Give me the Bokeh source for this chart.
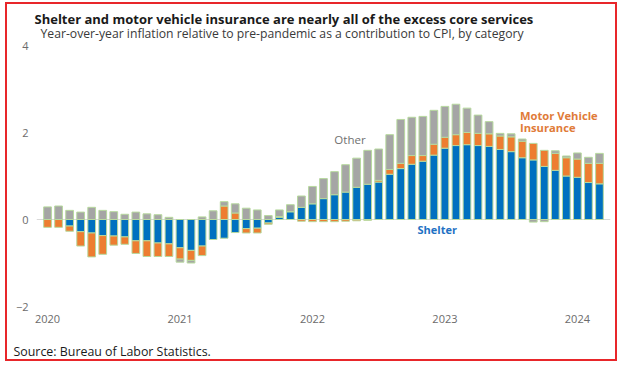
from bokeh.plotting import figure
from bokeh.models import ColumnDataSource, FixedTicker, Span, Label, Title
from bokeh.embed import file_html
from bokeh.resources import INLINE
import numpy as np

# Months Jan 2020 .. Mar 2024
months = [f"{y}-{m:02d}" for y in range(2020, 2025) for m in range(1, 13)][:51]

shelter = [0.00, 0.00, -0.15, -0.28, -0.31, -0.37, -0.38, -0.40, -0.49, -0.49, -0.54, -0.56,
           -0.65, -0.71, -0.61, -0.46, -0.43, -0.30, -0.21, -0.20, -0.08, 0.05, 0.18, 0.28,
           0.36, 0.48, 0.57, 0.63, 0.74, 0.81, 0.86, 1.04, 1.17, 1.27, 1.34, 1.48,
           1.64, 1.70, 1.72, 1.70, 1.68, 1.61, 1.56, 1.42, 1.37, 1.22, 1.13, 1.00,
           0.97, 0.85, 0.82]
motor = [-0.18, -0.18, -0.12, -0.33, -0.55, -0.43, -0.21, -0.17, -0.29, -0.36, -0.31, -0.29,
         -0.26, -0.23, -0.22, 0.00, 0.31, 0.15, -0.10, -0.11, -0.03, 0.02, 0.00, -0.04,
         -0.05, -0.05, -0.05, -0.04, -0.03, -0.02, 0.04, 0.11, 0.12, 0.20, 0.13, 0.25,
         0.25, 0.25, 0.28, 0.28, 0.29, 0.31, 0.34, 0.38, 0.38, 0.37, 0.39, 0.42,
         0.42, 0.44, 0.47]
other = [0.29, 0.31, 0.21, 0.17, 0.28, 0.21, 0.18, 0.12, 0.17, 0.13, 0.11, 0.05,
         -0.07, -0.06, 0.06, 0.20, 0.10, 0.21, 0.26, 0.22, 0.09, 0.15, 0.16, 0.26,
         0.40, 0.46, 0.53, 0.63, 0.67, 0.78, 0.72, 0.80, 1.01, 0.88, 0.90, 0.78,
         0.71, 0.70, 0.56, 0.42, 0.28, 0.06, 0.07, 0.05, -0.06, -0.05, 0.06, 0.04,
         0.14, 0.14, 0.23]

year_labels = ["2020", "2021", "2022", "2023", "2024"]
y_ticks = [-2, 0, 2, 4]

series = [("Shelter", shelter, "#0070C0"),
          ("Motor Vehicle Insurance", motor, "#ED7D31"),
          ("Other", other, "#A5A5A5")]

FONT = "Open Sans"
W, H = 612, 359
ML, MR, MT, MB = 29, 9, 41, 57
p = figure(width=W, height=H, output_backend="svg", toolbar_location=None,
           x_range=(-1, 51), y_range=(-2, 4),
           min_border_left=ML, min_border_right=MR, min_border_top=MT, min_border_bottom=MB)
p.styles = {"border": "2px solid #e8262a", "margin-left": "5px", "margin-top": "2px"}
p.outline_line_color = None
p.xgrid.visible = False
p.ygrid.visible = False
p.background_fill_color = "white"

x = np.arange(len(months))
pos = np.zeros(len(months))
neg = np.zeros(len(months))
for name, vals, col in series:
    v = np.array(vals)
    bottom = np.where(v >= 0, pos, neg + v)
    top = np.where(v >= 0, pos + v, neg)
    pos = np.where(v >= 0, pos + v, pos)
    neg = np.where(v < 0, neg + v, neg)
    src = ColumnDataSource(dict(x=x, bottom=bottom, top=top))
    p.vbar(x="x", bottom="bottom", top="top", width=0.7, source=src,
           fill_color=col, line_color="#B7D99E", line_width=1)

p.add_layout(Span(location=0, dimension="width", line_color="#d9d9d9", line_width=1,
                  level="underlay"))

# axes
xa = p.xaxis[0]
xa.ticker = FixedTicker(ticks=[0, 12, 24, 36, 48])
xa.major_label_overrides = {i * 12: lab for i, lab in enumerate(year_labels)}
ya = p.yaxis[0]
ya.ticker = FixedTicker(ticks=y_ticks)
for ax in (xa, ya):
    ax.axis_line_color = None
    ax.major_tick_line_color = None
    ax.minor_tick_line_color = None
    ax.major_tick_out = 0
    ax.major_tick_in = 0
    ax.minor_tick_out = 0
    ax.minor_tick_in = 0
    ax.major_label_text_color = "#6b6b6b"
    ax.major_label_text_font = FONT
    ax.major_label_text_font_size = "11px"
xa.major_label_standoff = 8
ya.major_label_standoff = 8

# titles (subtitle first: nearest to the frame)
p.add_layout(Title(text="Year-over-year inflation relative to pre-pandemic as a contribution to CPI, by category",
                   text_font=FONT, text_font_size="12.2px", text_color="#3a3a3a",
                   text_font_style="normal", align="left", offset=4, standoff=7), "above")
p.add_layout(Title(text="Shelter and motor vehicle insurance are nearly all of the excess core services",
                   text_font=FONT, text_font_size="13px", text_color="#1a1a1a",
                   text_font_style="bold", align="left", offset=-2, standoff=-16), "above")
# blank spacer line between the year labels and the source note
p.add_layout(Title(text=" ", text_font=FONT, text_font_size="1px", standoff=12), "below")
p.add_layout(Title(text="Source: Bureau of Labor Statistics.",
                   text_font=FONT, text_font_size="12.4px", text_color="#1a1a1a",
                   text_font_style="normal", align="left", offset=-23, standoff=1), "below")

p.add_layout(Label(x=27.4, y=1.84, text="Other", text_font=FONT, text_font_size="11.5px",
                   text_color="#707070", text_align="center", text_baseline="middle"))
p.add_layout(Label(x=35.3, y=-0.23, text="Shelter", text_font=FONT, text_font_size="11px",
                   text_color="#1f72c4", text_align="center", text_baseline="middle",
                   text_font_style="bold"))
p.add_layout(Label(x=42.8, y=2.39, text="Motor Vehicle", text_font=FONT, text_font_size="11.2px",
                   text_color="#e07b39", text_align="left", text_baseline="middle",
                   text_font_style="bold"))
p.add_layout(Label(x=42.8, y=2.11, text="Insurance", text_font=FONT, text_font_size="11.2px",
                   text_color="#e07b39", text_align="left", text_baseline="middle",
                   text_font_style="bold"))

open("out.html", "w").write(file_html(p, INLINE))
